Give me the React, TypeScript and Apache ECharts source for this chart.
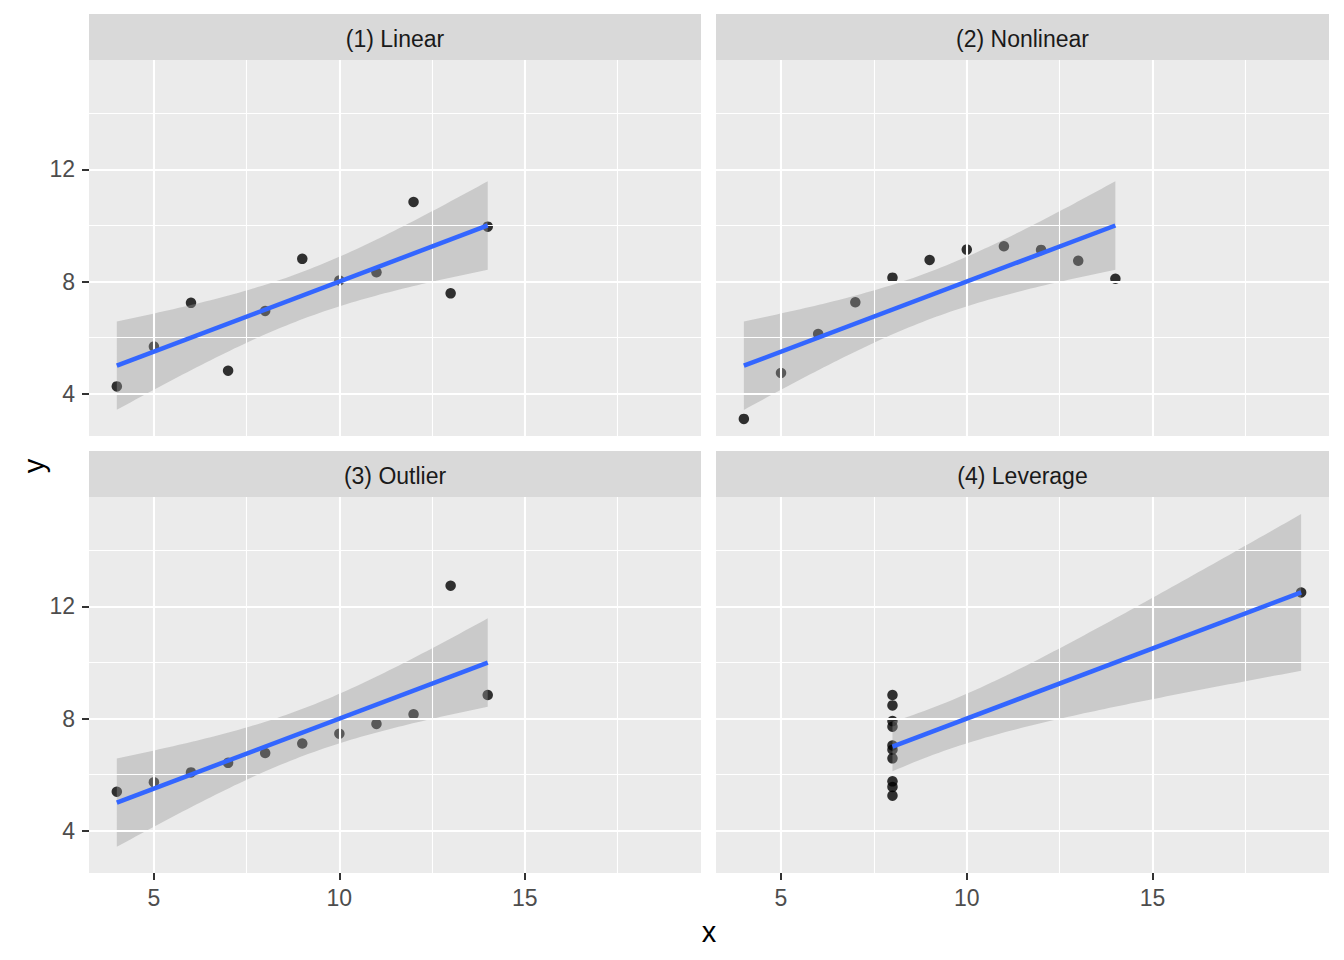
import React, { useEffect, useRef } from "react";
import * as echarts from "echarts";

// Anscombe's quartet
const X123 = [10, 8, 13, 9, 11, 14, 6, 4, 12, 7, 5];
const Y1 = [8.04, 6.95, 7.58, 8.81, 8.33, 9.96, 7.24, 4.26, 10.84, 4.82, 5.68];
const Y2 = [9.14, 8.14, 8.74, 8.77, 9.26, 8.1, 6.13, 3.1, 9.13, 7.26, 4.74];
const Y3 = [7.46, 6.77, 12.74, 7.11, 7.81, 8.84, 6.08, 5.39, 8.15, 6.42, 5.73];
const X4 = [8, 8, 8, 8, 8, 8, 8, 19, 8, 8, 8];
const Y4 = [6.58, 5.76, 7.71, 8.84, 8.47, 7.04, 5.25, 12.5, 5.56, 7.91, 6.89];

const PANEL_TITLES = ["(1) Linear", "(2) Nonlinear", "(3) Outlier", "(4) Leverage"];
const PANEL_X = [X123, X123, X123, X4];
const PANEL_Y = [Y1, Y2, Y3, Y4];

const X_TICKS = [5, 10, 15];
const X_MINOR = [7.5, 12.5, 17.5];
const Y_TICKS = [4, 8, 12];
const Y_MINOR = [6, 10, 14];

const T_975_DF9 = 2.262157;

function lmBand(xs: number[], ys: number[], nPts = 80) {
  const n = xs.length;
  const mx = xs.reduce((a, b) => a + b, 0) / n;
  const my = ys.reduce((a, b) => a + b, 0) / n;
  let sxx = 0, sxy = 0;
  for (let i = 0; i < n; i++) {
    sxx += (xs[i] - mx) ** 2;
    sxy += (xs[i] - mx) * (ys[i] - my);
  }
  const b = sxy / sxx;
  const a = my - b * mx;
  let sse = 0;
  for (let i = 0; i < n; i++) sse += (ys[i] - (a + b * xs[i])) ** 2;
  const s2 = sse / (n - 2);
  const xmin = Math.min(...xs), xmax = Math.max(...xs);
  const gx: number[] = [], fit: number[] = [], lo: number[] = [], hi: number[] = [];
  for (let k = 0; k < nPts; k++) {
    const x = xmin + ((xmax - xmin) * k) / (nPts - 1);
    const f = a + b * x;
    const se = Math.sqrt(s2 * (1 / n + (x - mx) ** 2 / sxx));
    gx.push(x);
    fit.push(f);
    lo.push(f - T_975_DF9 * se);
    hi.push(f + T_975_DF9 * se);
  }
  return { gx, fit, lo, hi };
}

const GRIDS = [
  { left: 89, top: 60, width: 612, height: 376 },
  { left: 716, top: 60, width: 613, height: 376 },
  { left: 89, top: 497, width: 612, height: 376 },
  { left: 716, top: 497, width: 613, height: 376 },
];

const FONT = "Liberation Sans, Arial, Helvetica, sans-serif";

export default function App() {
  const ref = useRef<HTMLDivElement>(null);
  useEffect(() => {
    if (!ref.current) return;
    const chart = echarts.init(ref.current, undefined, { renderer: "svg" });

    const bands = PANEL_X.map((xs, i) => lmBand(xs, PANEL_Y[i]));
    const allX = PANEL_X.flat();
    let yLo = Math.min(...PANEL_Y.flat()), yHi = Math.max(...PANEL_Y.flat());
    bands.forEach((b) => {
      yLo = Math.min(yLo, ...b.lo);
      yHi = Math.max(yHi, ...b.hi);
    });
    const xLo0 = Math.min(...allX), xHi0 = Math.max(...allX);
    const xSpan = xHi0 - xLo0, ySpan = yHi - yLo;
    const xMin = xLo0 - 0.05 * xSpan, xMax = xHi0 + 0.05 * xSpan;
    const yMin = yLo - 0.05 * ySpan, yMax = yHi + 0.05 * ySpan;

    const xAxis = GRIDS.map((_, i) => ({
      type: "value",
      gridIndex: i,
      min: xMin,
      max: xMax,
      axisLine: { show: false },
      splitLine: { show: false },
      axisTick: {
        show: i >= 2,
        customValues: X_TICKS,
        length: 7,
        lineStyle: { color: "#333333", width: 2 },
      },
      axisLabel: {
        show: i >= 2,
        customValues: X_TICKS,
        color: "#4D4D4D",
        fontSize: 23,
        fontFamily: FONT,
        margin: 13,
      },
    }));
    const yAxis = GRIDS.map((_, i) => ({
      type: "value",
      gridIndex: i,
      min: yMin,
      max: yMax,
      axisLine: { show: false },
      splitLine: { show: false },
      axisTick: {
        show: i % 2 === 0,
        customValues: Y_TICKS,
        length: 7,
        lineStyle: { color: "#333333", width: 2 },
      },
      axisLabel: {
        show: i % 2 === 0,
        customValues: Y_TICKS,
        color: "#4D4D4D",
        fontSize: 23,
        fontFamily: FONT,
        margin: 14,
        padding: [4, 0, 0, 0],
      },
    }));

    const series: any[] = [];
    GRIDS.forEach((_, i) => {
      const band = bands[i];
      const gl = (w: number) => ({ width: w, color: "#FFFFFF", type: "solid" });
      series.push({
        type: "line",
        xAxisIndex: i,
        yAxisIndex: i,
        data: [],
        z: 1,
        silent: true,
        markLine: {
          silent: true,
          symbol: ["none", "none"],
          label: { show: false },
          emphasis: { disabled: true },
          animation: false,
          data: [
            ...X_MINOR.map((v) => ({ xAxis: v, lineStyle: gl(1.1) })),
            ...Y_MINOR.map((v) => ({ yAxis: v, lineStyle: gl(1.1) })),
            ...X_TICKS.map((v) => ({ xAxis: v, lineStyle: gl(2.1) })),
            ...Y_TICKS.map((v) => ({ yAxis: v, lineStyle: gl(2.1) })),
          ],
        },
      });
      series.push({
        type: "scatter",
        xAxisIndex: i,
        yAxisIndex: i,
        z: 3,
        symbol: "circle",
        symbolSize: 10.5,
        itemStyle: { color: "#000000" },
        data: PANEL_X[i].map((x, k) => [x, PANEL_Y[i][k]]),
      });
      series.push({
        type: "custom",
        xAxisIndex: i,
        yAxisIndex: i,
        z: 4,
        silent: true,
        encode: { x: 0, y: 1 },
        data: [[band.gx[0], band.fit[0]]],
        renderItem: (_p: any, api: any) => {
          const pts: number[][] = [];
          for (let k = 0; k < band.gx.length; k++) pts.push(api.coord([band.gx[k], band.hi[k]]));
          for (let k = band.gx.length - 1; k >= 0; k--) pts.push(api.coord([band.gx[k], band.lo[k]]));
          return {
            type: "polygon",
            shape: { points: pts },
            style: { fill: "rgba(153,153,153,0.4)" },
          };
        },
      });
      series.push({
        type: "line",
        xAxisIndex: i,
        yAxisIndex: i,
        z: 5,
        symbol: "none",
        silent: true,
        lineStyle: { color: "#3366FF", width: 4.5 },
        data: [
          [band.gx[0], band.fit[0]],
          [band.gx[band.gx.length - 1], band.fit[band.fit.length - 1]],
        ],
      });
    });

    const graphic: any[] = [];
    GRIDS.forEach((g, i) => {
      const top = g.top - 46;
      graphic.push({
        type: "rect",
        shape: { x: g.left, y: top, width: g.width, height: 46 },
        style: { fill: "#D9D9D9" },
        silent: true,
      });
      graphic.push({
        type: "text",
        x: g.left + g.width / 2,
        y: top + 25,
        style: {
          text: PANEL_TITLES[i],
          fill: "#1A1A1A",
          fontSize: 23,
          fontFamily: FONT,
          align: "center",
          verticalAlign: "middle",
        },
        silent: true,
      });
    });
    graphic.push({
      type: "text",
      x: 709,
      y: 932,
      style: {
        text: "x",
        fill: "#000000",
        fontSize: 29,
        fontFamily: FONT,
        align: "center",
        verticalAlign: "middle",
      },
      silent: true,
    });
    graphic.push({
      type: "text",
      x: 34,
      y: 466,
      rotation: Math.PI / 2,
      style: {
        text: "y",
        fill: "#000000",
        fontSize: 29,
        fontFamily: FONT,
        align: "center",
        verticalAlign: "middle",
      },
      silent: true,
    });

    chart.setOption({
      animation: false,
      backgroundColor: "#FFFFFF",
      grid: GRIDS.map((g) => ({
        ...g,
        show: true,
        backgroundColor: "#EBEBEB",
        borderWidth: 0,
        containLabel: false,
        outerBoundsMode: "none",
      })),
      xAxis,
      yAxis,
      series,
      graphic,
    });
    return () => chart.dispose();
  }, []);
  return (
    <div
      ref={ref}
      style={{ position: "fixed", left: 0, top: 0, width: 1344, height: 960, background: "#fff" }}
    />
  );
}
